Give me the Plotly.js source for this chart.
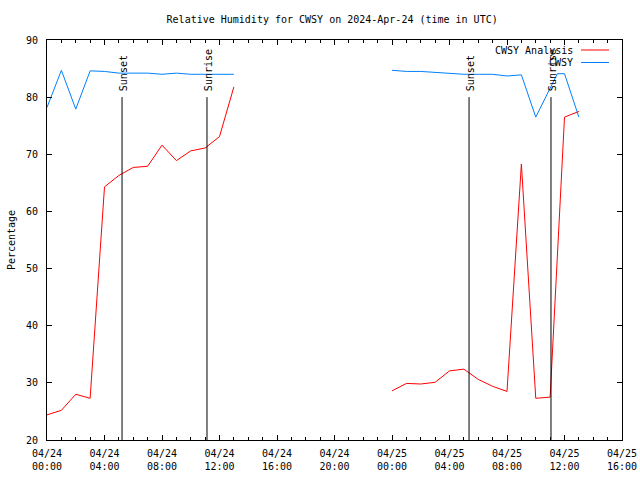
<!DOCTYPE html>
<html>
<head>
<meta charset="utf-8">
<script src="https://cdn.plot.ly/plotly-3.0.1.min.js"></script>
<style>html,body{margin:0;padding:0;background:#fff;}#chart{width:640px;height:480px;}</style>
</head>
<body>
<div id="chart"></div>
<script>
// Hours since 2024-04-24 00:00 UTC
var analysisHours = [0,1,2,3,4,5,6,7,8,9,10,11,12,13, 18, 24,25,26,27,28,29,30,31,32,33,34,35,36,37];
var analysisValues = [24.4,25.2,28.0,27.3,64.3,66.3,67.7,67.9,71.6,68.9,70.6,71.1,73.1,81.8, null,
  28.6,29.9,29.8,30.1,32.1,32.4,30.6,29.4,28.5,68.3,27.3,27.5,76.5,77.5];

var obsHours = [0,1,2,3,4,5,6,7,8,9,10,11,12,13, 18, 24,25,26,27,28,29,30,31,32,33,34,35.5,36,37];
var obsValues = [78.2,84.7,77.9,84.6,84.5,84.2,84.2,84.2,84.0,84.2,84.0,84.0,84.0,84.0, null,
  84.7,84.5,84.5,84.3,84.1,84.0,84.0,84.0,83.7,83.9,76.5,84.1,84.1,76.5];

var seriesNames = ["CWSY Analysis", "CWSY"];
var seriesColors = ["#ff0000", "#0080ff"];

var sunEventHours = [5.22, 11.13, 29.36, 35.06];
var sunEventLabels = ["Sunset", "Sunrise", "Sunset", "Sunrise"];

var tickHours = [0,4,8,12,16,20,24,28,32,36,40];
var tickLabels = ["04/24<br>00:00","04/24<br>04:00","04/24<br>08:00","04/24<br>12:00","04/24<br>16:00",
  "04/24<br>20:00","04/25<br>00:00","04/25<br>04:00","04/25<br>08:00","04/25<br>12:00","04/25<br>16:00"];

var FONT = "DejaVu Sans Mono, monospace";

var traces = [
  {x: analysisHours, y: analysisValues, type: "scatter", mode: "lines", name: seriesNames[0],
   line: {color: seriesColors[0], width: 1}, connectgaps: false, hoverinfo: "skip"},
  {x: obsHours, y: obsValues, type: "scatter", mode: "lines", name: seriesNames[1],
   line: {color: seriesColors[1], width: 1}, connectgaps: false, hoverinfo: "skip"}
];

var shapes = [];
var annotations = [];
for (var i = 0; i < sunEventHours.length; i++) {
  shapes.push({type: "line", xref: "x", yref: "y", x0: sunEventHours[i], x1: sunEventHours[i], y0: 20, y1: 80,
    line: {color: "#000", width: 1}});
  annotations.push({x: sunEventHours[i], y: 80, xref: "x", yref: "y", text: sunEventLabels[i],
    textangle: -90, showarrow: false, yanchor: "bottom", xanchor: "center", yshift: 4, xshift: 1,
    font: {family: FONT, size: 10, color: "#000"}});
}
// legend (gnuplot style: text then sample)
var legendY = [50, 62.5];
for (var j = 0; j < seriesNames.length; j++) {
  var yp = 1 - (legendY[j] - 40) / 400;
  annotations.push({x: (575 - 47) / 575, y: yp, xref: "paper", yref: "paper", text: seriesNames[j],
    showarrow: false, xanchor: "right", yanchor: "middle", font: {family: FONT, size: 10, color: "#000"}});
  shapes.push({type: "line", xref: "paper", yref: "paper", x0: (581 - 47) / 575, x1: (609 - 47) / 575,
    y0: yp, y1: yp, line: {color: seriesColors[j], width: 1}});
}

var layout = {
  width: 640, height: 480,
  margin: {l: 47, r: 18, t: 40, b: 40},
  paper_bgcolor: "#fff", plot_bgcolor: "#fff",
  showlegend: false,
  font: {family: FONT, size: 10, color: "#000"},
  title: {text: "Relative Humidity for CWSY on 2024-Apr-24 (time in UTC)", x: 0.519, xanchor: "center",
    y: 1 - 19 / 480, yanchor: "middle", font: {family: FONT, size: 10, color: "#000"}},
  xaxis: {range: [0, 40], tickvals: tickHours, ticktext: tickLabels, ticks: "inside", ticklen: 5,
    tickcolor: "#000", showline: true, linecolor: "#000", linewidth: 1, mirror: "allticks",
    showgrid: false, zeroline: false, ticklabelstandoff: 4,
    minor: {dtick: 1, tick0: 0, ticks: "inside", ticklen: 3, tickcolor: "#000", showgrid: false},
    tickfont: {family: FONT, size: 10, color: "#000"}},
  yaxis: {range: [20, 90], dtick: 10, ticks: "inside", ticklen: 5, tickcolor: "#000",
    showline: true, linecolor: "#000", linewidth: 1, mirror: "allticks", showgrid: false, zeroline: false,
    ticklabelstandoff: 6,
    title: {text: "Percentage", standoff: 8, font: {family: FONT, size: 10, color: "#000"}},
    tickfont: {family: FONT, size: 10, color: "#000"}},
  shapes: shapes,
  annotations: annotations
};

Plotly.newPlot("chart", traces, layout, {staticPlot: true, displayModeBar: false});
</script>
</body>
</html>
